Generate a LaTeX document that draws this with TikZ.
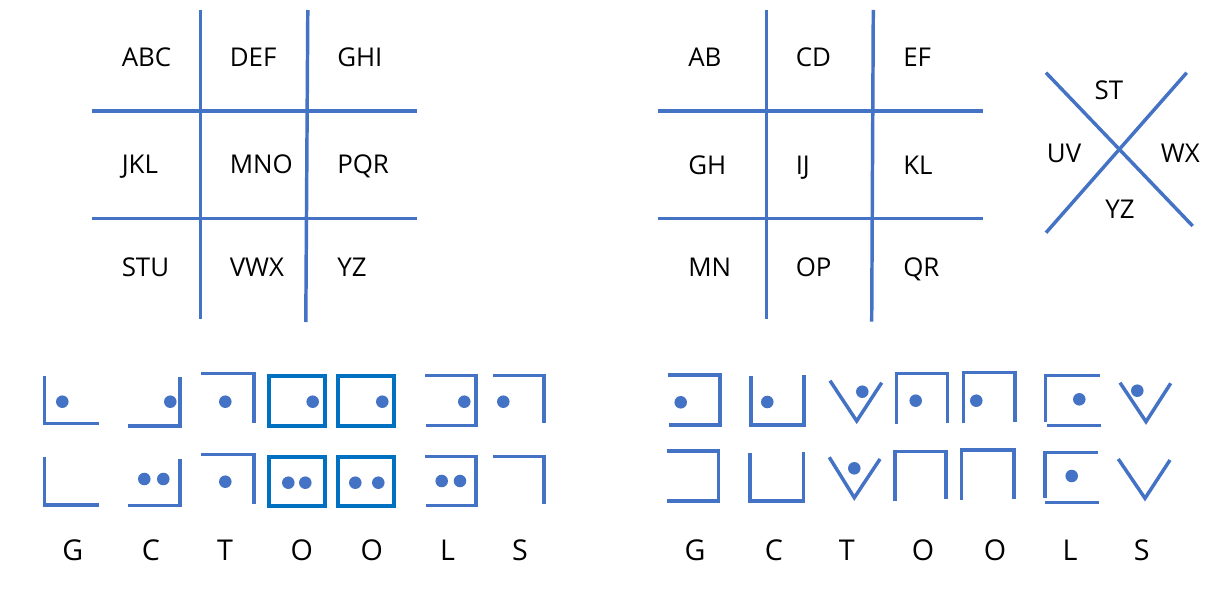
\documentclass[tikz,border=0pt]{standalone}
\usepackage{fontspec}
\setmainfont{Open Sans}
\definecolor{ln}{HTML}{4472C4}
\definecolor{bx}{HTML}{0070C0}
\begin{document}
\begin{tikzpicture}[x=0.75pt,y=-0.75pt,
  gridline/.style={draw=ln,line width=2.6pt},
  glyph/.style={draw=ln,line width=2.6pt},
  boxglyph/.style={draw=bx,line width=2.9pt},
  dot/.style={fill=ln},
  lbl/.style={inner sep=0pt,anchor=base west,font=\fontsize{19.4}{22}\selectfont},
  big/.style={inner sep=0pt,anchor=base,font=\fontsize{21.5}{24}\selectfont}]
\useasboundingbox (0,0) rectangle (1225,592);
% ---------- left grid ----------
\draw[gridline] (200.7,10) -- (200.7,319.3);
\draw[gridline] (307.8,10) -- (305.8,322);
\draw[gridline] (92,111) -- (416.7,111);
\draw[gridline] (92,218.3) -- (416.7,218.3);
\node[lbl] (abc) at (121.5,66.7) {ABC};
\node[lbl] (def) at (229.5,66.7) {DEF};
\node[lbl] (ghi) at (337,66.7) {GHI};
\node[lbl] (jkl) at (121.5,173.3) {JKL};
\node[lbl] (mno) at (229.5,173.3) {MNO};
\node[lbl] (pqr) at (337,173.3) {PQR};
\node[lbl] (stu) at (121.5,276.7) {STU};
\node[lbl] (vwx) at (229.5,276.7) {VWX};
\node[lbl] (yz) at (337,276.7) {YZ};
% ---------- right grid ----------
\draw[gridline] (766.7,10) -- (766.7,319.3);
\draw[gridline] (873.3,10) -- (871.7,321.7);
\draw[gridline] (658.3,111) -- (982.7,111);
\draw[gridline] (658.3,218.3) -- (982.7,218.3);
\node[lbl] (ab) at (688,66.7) {AB};
\node[lbl] (cd) at (795.5,66.7) {CD};
\node[lbl] (ef) at (903,66.7) {EF};
\node[lbl] (gh) at (688,174) {GH};
\node[lbl] (ij) at (795.5,174) {IJ};
\node[lbl] (kl) at (903,174) {KL};
\node[lbl] (mn) at (688,276.7) {MN};
\node[lbl] (op) at (795.5,276.7) {OP};
\node[lbl] (qr) at (903,276.7) {QR};
% ---------- X ----------
\draw[gridline] (1046,72.7) -- (1192.7,226);
\draw[gridline] (1046,232.7) -- (1186.7,72.7);
\node[lbl] (st) at (1094.3,99.3) {ST};
\node[lbl] (uv) at (1046.7,162.7) {UV};
\node[lbl] (wx) at (1160.7,162.7) {WX};
\node[lbl] (yz2) at (1105,218.3) {YZ};
% ---------- left code, top row ----------
\draw[glyph] (44.3,376) -- (44.3,423.3) -- (99,423.3);
\fill[dot] (62.3,401.7) circle[radius=4.7pt];
\draw[glyph] (128.3,426) -- (180,426) -- (180,376.7);
\fill[dot] (170.3,401.7) circle[radius=4.7pt];
\draw[glyph] (201,373.7) -- (254,373.7) -- (254,423.3);
\fill[dot] (225.3,401.7) circle[radius=4.7pt];
\draw[boxglyph] (268.7,375.7) rectangle (324.7,425.7);
\fill[dot] (312.7,401.7) circle[radius=4.7pt];
\draw[boxglyph] (338.3,375.7) rectangle (394.3,425.7);
\fill[dot] (382.3,401.7) circle[radius=4.7pt];
\draw[glyph] (425,375.7) -- (476,375.7) -- (476,425.7) -- (426,425.7);
\fill[dot] (464.3,401.7) circle[radius=4.7pt];
\draw[glyph] (493.3,375.7) -- (544,375.7) -- (544,423.3);
\fill[dot] (503.3,401.7) circle[radius=4.7pt];
% ---------- left code, bottom row ----------
\draw[glyph] (44.3,457.3) -- (44.3,505) -- (99,505);
\draw[glyph] (128.3,505.7) -- (180,505.7) -- (180,458.7);
\fill[dot] (144.3,479) circle[radius=4.7pt];
\fill[dot] (163.3,479) circle[radius=4.7pt];
\draw[glyph] (201,454.7) -- (254,454.7) -- (254,504);
\fill[dot] (225.3,481.7) circle[radius=4.7pt];
\draw[boxglyph] (268.7,456.7) rectangle (324.7,506);
\fill[dot] (288.3,482.7) circle[radius=4.7pt];
\fill[dot] (305.3,482.7) circle[radius=4.7pt];
\draw[boxglyph] (338.3,456.7) rectangle (394.3,506);
\fill[dot] (355.3,482.7) circle[radius=4.7pt];
\fill[dot] (378.3,482.7) circle[radius=4.7pt];
\draw[glyph] (425,456.7) -- (476,456.7) -- (476,505.7) -- (426,505.7);
\fill[dot] (441.7,481) circle[radius=4.7pt];
\fill[dot] (460,481) circle[radius=4.7pt];
\draw[glyph] (493.3,456.7) -- (544,456.7) -- (544,504.3);
% ---------- right code, top row ----------
\draw[glyph] (668.3,375) -- (720,375) -- (720,425) -- (669.3,425);
\fill[dot] (680.7,402.3) circle[radius=4.7pt];
\draw[glyph] (751,375.7) -- (751,425) -- (804,425) -- (804,375);
\fill[dot] (767.3,402) circle[radius=4.7pt];
\draw[glyph] (830,380.7) -- (856.7,421) -- (881.7,382.7);
\fill[dot] (862.3,391.7) circle[radius=4.7pt];
\draw[glyph] (896.7,424.3) -- (896.7,373.3) -- (947.3,373.3) -- (947.3,423.3);
\fill[dot] (915.7,400.7) circle[radius=4.7pt];
\draw[glyph] (963.3,423.3) -- (963.3,372.3) -- (1015,372.3) -- (1015,422.3);
\fill[dot] (976.3,400.7) circle[radius=4.7pt];
\draw[glyph] (1100,375.7) -- (1045.7,375.7) -- (1045.7,421.7);
\draw[glyph] (1047.3,425.7) -- (1101,425.7);
\fill[dot] (1079.3,399.3) circle[radius=4.7pt];
\draw[glyph] (1120,382.7) -- (1146,421.7) -- (1170.7,383.3);
\fill[dot] (1137.3,390.7) circle[radius=4.7pt];
% ---------- right code, bottom row ----------
\draw[glyph] (666.7,451) -- (718.3,451) -- (718.3,501) -- (667.3,501);
\draw[glyph] (750,453.3) -- (750,501) -- (803.3,501) -- (803.3,452.3);
\draw[glyph] (829.3,457.3) -- (854.3,497.7) -- (880,459);
\fill[dot] (854.3,468.3) circle[radius=4.7pt];
\draw[glyph] (895,501) -- (895,451.7) -- (946,451.7) -- (946,499.3);
\draw[glyph] (961.7,500) -- (961.7,450) -- (1014,450) -- (1014,499.3);
\draw[glyph] (1097.7,452.3) -- (1045,452.3) -- (1045,498.3);
\draw[glyph] (1045,502.7) -- (1099,502.7);
\fill[dot] (1071.7,476) circle[radius=4.7pt];
\draw[glyph] (1118.3,459) -- (1145,498.3) -- (1170,460);
% ---------- letters ----------
\node[big] (lg) at (72.8,560) {G};
\node[big] (lc) at (150.8,560) {C};
\node[big] (lt) at (225,560) {T};
\node[big] (lo1) at (301.7,560) {O};
\node[big] (lo2) at (371.7,560) {O};
\node[big] (ll) at (447.5,560) {L};
\node[big] (ls) at (520,560) {S};
\node[big] (rg) at (695,560) {G};
\node[big] (rc) at (773.8,560) {C};
\node[big] (rt) at (846.7,560) {T};
\node[big] (ro1) at (923,560) {O};
\node[big] (ro2) at (995,560) {O};
\node[big] (rl) at (1070,560) {L};
\node[big] (rs) at (1141.7,560) {S};
\end{tikzpicture}
\end{document}
